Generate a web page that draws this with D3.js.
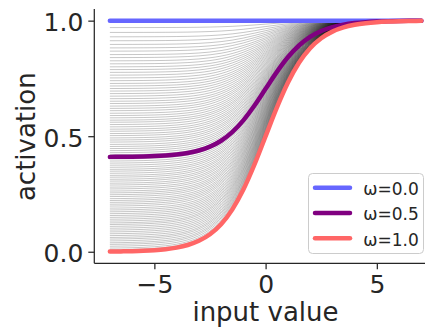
<!DOCTYPE html>
<html>
<head>
<meta charset="utf-8">
<script src="https://cdn.jsdelivr.net/npm/d3@7"></script>
<style>
  html, body { margin: 0; padding: 0; background: #fff; }
  svg { display: block; font-family: "DejaVu Sans", sans-serif; }
</style>
</head>
<body>
<svg id="chart" width="425" height="330"></svg>
<script>
// Input grid (x) and the sigmoid response sampled on it
const inputValues = [-7, -6.5, -6, -5.5, -5, -4.5, -4, -3.5, -3, -2.5, -2, -1.5, -1, -0.5, 0,
                     0.5, 1, 1.5, 2, 2.5, 3, 3.5, 4, 4.5, 5, 5.5, 6, 6.5, 7];
const sigmoidValues = [0.0009, 0.0015, 0.0025, 0.0041, 0.0067, 0.0110, 0.0180, 0.0293, 0.0474, 0.0759,
                       0.1192, 0.1824, 0.2689, 0.3775, 0.5, 0.6225, 0.7311, 0.8176, 0.8808, 0.9241,
                       0.9526, 0.9707, 0.9820, 0.9890, 0.9933, 0.9959, 0.9975, 0.9985, 0.9991];

// Resting level (activation far to the left) of each grey curve
const floorLevels = [1.000, 0.970, 0.949, 0.930, 0.913, 0.897, 0.882, 0.868, 0.853, 0.840,
                     0.826, 0.813, 0.800, 0.788, 0.776, 0.764, 0.752, 0.740, 0.728, 0.717,
                     0.706, 0.695, 0.684, 0.673, 0.662, 0.651, 0.641, 0.630, 0.620, 0.610,
                     0.599, 0.589, 0.579, 0.569, 0.560, 0.550, 0.540, 0.530, 0.521, 0.511,
                     0.502, 0.492, 0.483, 0.474, 0.464, 0.455, 0.446, 0.437, 0.428, 0.419,
                     0.410, 0.401, 0.392, 0.383, 0.374, 0.365, 0.356, 0.348, 0.339, 0.330,
                     0.322, 0.313, 0.305, 0.296, 0.288, 0.279, 0.271, 0.262, 0.254, 0.246,
                     0.238, 0.229, 0.221, 0.213, 0.205, 0.197, 0.188, 0.180, 0.172, 0.164,
                     0.156, 0.148, 0.140, 0.132, 0.124, 0.117, 0.109, 0.101, 0.093, 0.085,
                     0.077, 0.069, 0.061, 0.054, 0.046, 0.038, 0.031, 0.023, 0.015, 0.008,
                     0.000];

// Highlighted curves
const highlightLabels = ["ω=0.0", "ω=0.5", "ω=1.0"];
const highlightFloors = [1.0, 0.41, 0.0];
const highlightColors = ["#6666ff", "#800080", "#ff6666"];

const xTicks = [-5, 0, 5];
const yTicks = [0.0, 0.5, 1.0];

const svg = d3.select("#chart");
const ink = "#262626";

const x = d3.scaleLinear().domain([-7.7, 7.7]).range([94.3, 436.9]);
const y = d3.scaleLinear().domain([-0.05, 1.05]).range([263.3, 9.1]);

const curveFor = floor => inputValues.map((v, i) => [v, floor + (1 - floor) * sigmoidValues[i]]);
const line = d3.line().x(d => x(d[0])).y(d => y(d[1])).curve(d3.curveMonotoneX);

// Grey family
svg.append("g")
  .selectAll("path")
  .data(floorLevels)
  .join("path")
  .attr("d", f => line(curveFor(f)))
  .attr("fill", "none")
  .attr("stroke", "#000")
  .attr("stroke-opacity", 0.25)
  .attr("stroke-width", 0.9);

// Highlighted curves
svg.append("g")
  .selectAll("path")
  .data(highlightFloors)
  .join("path")
  .attr("d", f => line(curveFor(f)))
  .attr("fill", "none")
  .attr("stroke", (d, i) => highlightColors[i])
  .attr("stroke-width", 4.5)
  .attr("stroke-linecap", "round")
  .attr("stroke-linejoin", "round");

// Axes (left and bottom only)
const xAxis = d3.axisBottom(x).tickValues(xTicks).tickSize(6).tickPadding(4)
  .tickFormat(d => d < 0 ? "\u2212" + Math.abs(d) : String(d));
const gx = svg.append("g").attr("transform", `translate(0,${263.3})`).call(xAxis);
gx.select(".domain").attr("d", `M${94.3},0H425`);
gx.selectAll(".domain, .tick line").attr("stroke", ink).attr("stroke-width", 1.25);
gx.selectAll(".tick text").attr("fill", ink).attr("font-size", 25)
  .attr("dy", null).attr("y", 30);

const yAxis = d3.axisLeft(y).tickValues(yTicks).tickSize(6).tickPadding(5)
  .tickFormat(d3.format(".1f"));
const gy = svg.append("g").attr("transform", `translate(${94.3},0)`).call(yAxis);
gy.select(".domain").attr("d", `M0,${9.1}V${263.3}`);
gy.selectAll(".domain, .tick line").attr("stroke", ink).attr("stroke-width", 1.25);
gy.selectAll(".tick text").attr("fill", ink).attr("font-size", 25)
  .attr("dy", null).attr("y", 10).attr("x", -11);

svg.selectAll(".tick text").attr("font-family", "DejaVu Sans");

// Axis titles
svg.append("text")
  .attr("x", 265.5).attr("y", 321)
  .attr("text-anchor", "middle")
  .attr("font-size", 26).attr("fill", ink)
  .text("input value");

svg.append("text")
  .attr("transform", "translate(35,136.7) rotate(-90)")
  .attr("text-anchor", "middle")
  .attr("font-size", 26).attr("fill", ink)
  .text("activation");

// Legend
const legend = svg.append("g");
legend.append("rect")
  .attr("x", 308.5).attr("y", 173.5).attr("width", 115).attr("height", 80)
  .attr("rx", 4).attr("fill", "#fff").attr("fill-opacity", 0.8)
  .attr("stroke", "#cccccc").attr("stroke-width", 1);
const rows = legend.selectAll("g.row").data(highlightLabels).join("g")
  .attr("class", "row")
  .attr("transform", (d, i) => `translate(0,${187.7 + i * 25.3})`);
rows.append("line")
  .attr("x1", 315).attr("x2", 350).attr("y1", 0).attr("y2", 0)
  .attr("stroke", (d, i) => highlightColors[i])
  .attr("stroke-width", 4.5).attr("stroke-linecap", "round");
rows.append("text")
  .attr("x", 363.3).attr("y", 7.3)
  .attr("font-size", 17).attr("fill", ink)
  .text(d => d);
</script>
</body>
</html>
